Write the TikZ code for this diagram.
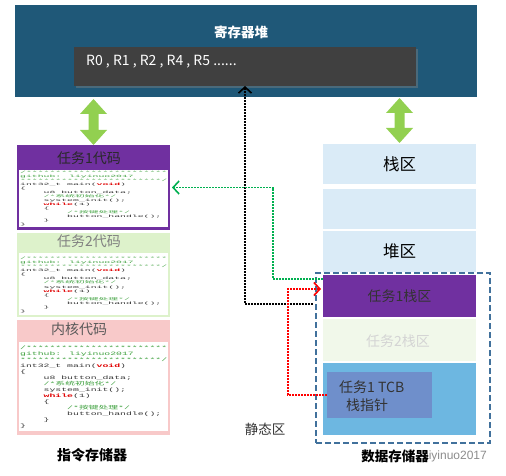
\documentclass[tikz,border=0pt]{standalone}
\usepackage{fontspec}
\setmainfont{Noto Sans CJK SC}
\newfontfamily\codefont{Liberation Mono}
\newfontfamily\cjkcode{Noto Sans CJK SC}
\newfontfamily\wmfont{Liberation Sans}
\usetikzlibrary{arrows.meta,shadows}
\definecolor{regblue}{HTML}{1F5878}
\definecolor{regdark}{HTML}{404040}
\definecolor{arrgreen}{HTML}{92D050}
\definecolor{taskpurple}{HTML}{7030A0}
\definecolor{ttwogreen}{HTML}{DDF2CB}
\definecolor{kpink}{HTML}{F8C9C9}
\definecolor{stackblue}{HTML}{DAEBF7}
\definecolor{ttwostack}{HTML}{F1F8EA}
\definecolor{staticblue}{HTML}{6DB7E1}
\definecolor{tcbblue}{HTML}{6F8FCB}
\definecolor{dashblue}{HTML}{41719C}
\definecolor{cgreen}{HTML}{3CA03C}
\definecolor{cred}{HTML}{E00000}
\definecolor{codegray}{HTML}{333333}
\definecolor{dotgreen}{HTML}{00B050}
\newcommand\mycode{%
{\fontsize{5}{6}\selectfont\codefont\color{codegray}%
\begin{tabular}{@{}l@{}}
\textcolor{cgreen}{/************************}\\
\textcolor{cgreen}{github: liyinuo2017}\\
\textcolor{cgreen}{************************/}\\
int32\_t main(\textcolor{cred}{\bfseries void})\\
\{\\
\ \ \ \ u8 button\_data;\\
\ \ \ \ \textcolor{cgreen}{/*{\cjkcode 系统初始化}*/}\\
\ \ \ \ system\_init();\\
\ \ \ \ \textcolor{cred}{\bfseries while}(1)\\
\ \ \ \ \{\\
\ \ \ \ \ \ \ \ \textcolor{cgreen}{/*{\cjkcode 按键处理}*/}\\
\ \ \ \ \ \ \ \ button\_handle();\\
\ \ \ \ \}\\
\}
\end{tabular}}}
\begin{document}
\begin{tikzpicture}[x=1pt,y=-1pt,
  blk/.style={draw=none,inner sep=0pt,outer sep=0pt,minimum width=#1},
  blk/.default=153pt,
  lbl/.style={inner sep=0pt,font=\fontsize{14}{16}\selectfont},
  dotline/.style={line width=1.6pt,dash pattern=on 1.6pt off 1.4pt},
  barb/.style={-{Straight Barb[length=6pt,width=13pt,line width=1.6pt]}}]
\useasboundingbox (0,0) rectangle (506,476);
% register file
\node[blk=462pt,minimum height=92pt,fill=regblue] (reg) at (246,51) {};
\node[inner sep=0pt,text=white,font=\fontsize{13.5}{16}\selectfont\bfseries] (title) at (241,32) {寄存器堆};
\node[blk=342pt,minimum height=39pt,fill=regdark,
  drop shadow={opacity=0.45,shadow xshift=2pt,shadow yshift=-2pt}] (regs) at (245,66.5) {};
\node[inner sep=0pt,anchor=west,text=white,font=\fontsize{14}{16}\selectfont] (rlist) at (86,61.5) {R0 , R1 , R2 , R4 , R5 ......};
% left column: instruction memory
\node[blk,minimum height=85pt,fill=taskpurple] (t1) at (93.5,187.5) {};
\node[blk=149pt,minimum height=57pt,fill=white,anchor=north west] (t1area) at (19,170) {};
\node[lbl,text=codegray!80!black] (t1h) at (89,158) {任务1代码};
\node[inner sep=0pt,anchor=north west] (t1code) at (20,171) {\resizebox*{147pt}{55pt}{\mycode}};
\node[blk,minimum height=84pt,fill=ttwogreen] (t2) at (93.5,275) {};
\node[blk=149pt,minimum height=62pt,fill=white,anchor=north west] (t2area) at (19,253) {};
\node[lbl,text=black!50] (t2h) at (89,241) {任务2代码};
\node[inner sep=0pt,anchor=north west] (t2code) at (20,256) {\resizebox*{147pt}{58pt}{\mycode}};
\node[blk,minimum height=115pt,fill=kpink] (kern) at (93.5,377.5) {};
\node[blk=149pt,minimum height=89pt,fill=white,anchor=north west] (karea) at (19,342) {};
\node[lbl,text=black!65] (kh) at (79,329) {内核代码};
\node[inner sep=0pt,anchor=north west] (kcode) at (20,345) {\resizebox*{147pt}{84pt}{\mycode}};
\node[inner sep=0pt,font=\fontsize{14}{16}\selectfont\bfseries] (imem) at (92,455) {指令存储器};
% right column: data memory
\node[blk,minimum height=40pt,fill=stackblue] (stack) at (399.5,164) {};
\node[lbl,font=\fontsize{16.5}{18}\selectfont] at (stack) {栈区};
\node[blk,minimum height=40pt,fill=stackblue] (empty) at (399.5,209) {};
\node[blk,minimum height=41pt,fill=stackblue] (heap) at (399.5,251.5) {};
\node[lbl,font=\fontsize{16.5}{18}\selectfont] at (heap) {堆区};
\node[blk,minimum height=42pt,fill=taskpurple] (t1stack) at (399.5,296) {};
\node[lbl,text=codegray] at (t1stack) {任务1栈区};
\node[blk,minimum height=42pt,fill=ttwostack] (t2stack) at (399.5,340) {};
\node[lbl,text=black!17] at (398,341) {任务2栈区};
\node[blk,minimum height=72pt,fill=staticblue] (static) at (399.5,399) {};
\node[blk=105pt,minimum height=46pt,fill=tcbblue] (tcb) at (379.5,395) {};
\node[lbl,anchor=west,text=codegray] (tcbt) at (339,387) {任务1 TCB};
\node[lbl,anchor=west,text=codegray] (tcbp) at (346,405) {栈指针};
\node[lbl,font=\fontsize{13.5}{16}\selectfont,text=codegray] (statl) at (265,429) {静态区};
\node[draw=dashblue,line width=1.6pt,dash pattern=on 6pt off 3pt,inner sep=0pt,minimum width=174pt,minimum height=170pt] (dmem) at (403,358) {};
\node[inner sep=0pt,anchor=east,text=black!45,font=\wmfont\fontsize{12}{14}\selectfont] (wm) at (487,456) {liyinuo2017};
\node[inner sep=0pt,font=\fontsize{13.5}{16}\selectfont\bfseries] (dmeml) at (395,456) {数据存储器};
% green double arrows
\fill[arrgreen] (t1.north) -- ++(13.5,-15) -- ++(-8.5,0) -- ++(0,-16) -- ++(8.5,0) -- ++(-13.5,-15)
  -- ++(-13.5,15) -- ++(8.5,0) -- ++(0,16) -- ++(-8.5,0) -- cycle;
\fill[arrgreen] (stack.north) ++(0,-1) -- ++(13.5,-15) -- ++(-8.5,0) -- ++(0,-15) -- ++(8.5,0) -- ++(-13.5,-15)
  -- ++(-13.5,15) -- ++(8.5,0) -- ++(0,15) -- ++(-8.5,0) -- cycle;
% dotted connectors
\coordinate (bstart) at (313,304);
\coordinate (gstart) at (323,279);
\coordinate (rend) at (321,289);
\draw[dotline,black,barb] (bstart) -| (regs.south);
\draw[dotline,dotgreen,barb] (gstart) -| (273,187.5) -- ([xshift=2pt]t1.east);
\draw[dotline,red,barb] (tcb.west) -| (288,289) -- (rend);
\end{tikzpicture}
\end{document}
